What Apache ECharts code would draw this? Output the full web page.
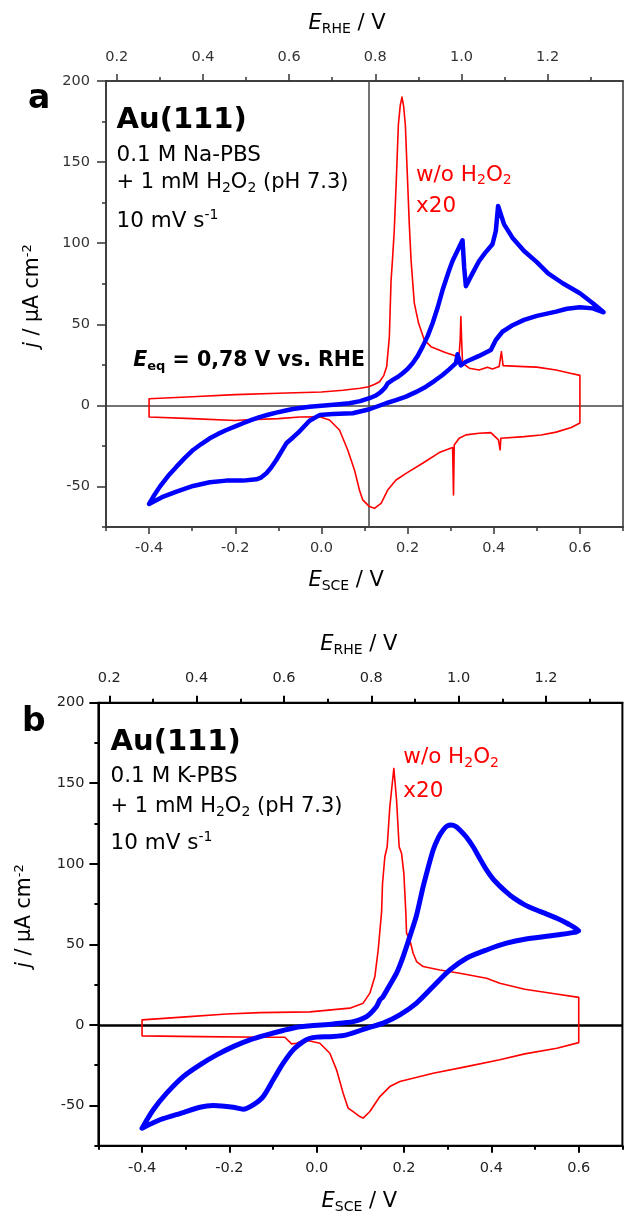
<!DOCTYPE html>
<html><head><meta charset="utf-8">
<script src="https://cdn.jsdelivr.net/npm/echarts@6/dist/echarts.min.js"></script>
<style>html,body{margin:0;padding:0;background:#fff}#c{width:624px;height:1212px}</style>
</head><body><div id="c"></div>
<script>
// ---- axes / tick values ----
const sceTicks = [-0.4, -0.2, 0, 0.2, 0.4, 0.6];
const sceMinor = [-0.5, -0.3, -0.1, 0.1, 0.3, 0.5, 0.7];
const rheTicks = [0.2, 0.4, 0.6, 0.8, 1.0, 1.2];
const rheMinor = [0.3, 0.5, 0.7, 0.9, 1.1, 1.3];
const jTicks = [-50, 0, 50, 100, 150, 200];
const jMinor = [-75, -25, 25, 75, 125, 175];
const sceRange = [-0.5, 0.7];
const rheOffset = 0.675;
const jRange = [-75, 200];
const eqLineSCE = 0.11;

// ---- panel a : Au(111), 0.1 M Na-PBS ----
const aRed = [[-0.4,4.1],[-0.3,5.3],[-0.2,6.6],[-0.1,7.5],[0.0,8.2],[0.05,9.3],[0.09,10.6],[0.11,11.5],[0.125,13.2],[0.135,14.6],[0.145,18.5],[0.1515,23.9],[0.1577,42.4],[0.1616,76.7],[0.165,90],[0.169,107.5],[0.174,140],[0.1786,173],[0.183,185],[0.187,190.1],[0.191,184],[0.1948,173],[0.199,145],[0.204,111.6],[0.208,90],[0.2117,76.7],[0.2156,63],[0.2256,50.6],[0.2388,40.3],[0.2543,36.2],[0.289,32.5],[0.3122,30.5],[0.319,29],[0.322,40],[0.3237,54.7],[0.3255,40],[0.3276,26],[0.343,22.9],[0.366,21.8],[0.3854,23.5],[0.397,22.4],[0.4125,23.9],[0.4178,33.1],[0.4217,24.5],[0.47,23.9],[0.5,23.6],[0.5447,21.8],[0.575,20],[0.6,18.5],[0.6,-10.9],[0.58,-13.6],[0.5447,-16.5],[0.51,-18.3],[0.4704,-19.3],[0.4164,-20.3],[0.4148,-27.5],[0.4109,-21.3],[0.3932,-16.8],[0.366,-17.2],[0.3354,-18.2],[0.3198,-20.3],[0.3083,-24.4],[0.3066,-55.2],[0.3045,-26],[0.2735,-29.1],[0.2349,-35.7],[0.1964,-41.9],[0.1732,-46],[0.1538,-52.2],[0.1385,-60.4],[0.123,-63.5],[0.1114,-62.4],[0.096,-58.3],[0.0882,-52.2],[0.0767,-39.8],[0.0611,-27.5],[0.0419,-15.2],[0.0188,-9],[-0.0044,-7],[-0.05,-7.2],[-0.1,-8.2],[-0.182,-9],[-0.2,-9.3],[-0.3,-8.2],[-0.4,-7.2],[-0.4,4.1]];
const aBlue = [[-0.4,-60.8],[-0.39,-56.2],[-0.375,-50.1],[-0.356,-43.6],[-0.3363,-37.8],[-0.317,-32.4],[-0.2978,-27.5],[-0.278,-23.7],[-0.2591,-20.3],[-0.24,-17.6],[-0.2205,-15.2],[-0.2,-13],[-0.182,-11],[-0.162,-9],[-0.1434,-7.3],[-0.124,-5.8],[-0.1047,-4.5],[-0.085,-3.3],[-0.0662,-2.2],[-0.0276,-0.8],[0.0,-0.3],[0.035,0.5],[0.065,1.3],[0.09,2.6],[0.1114,4.4],[0.125,5.9],[0.1346,7.5],[0.142,9.3],[0.148,11],[0.1538,13.6],[0.1654,15.7],[0.178,17.6],[0.1886,19.8],[0.2,22.4],[0.2117,26],[0.2235,30.5],[0.2349,36.2],[0.247,43],[0.258,50.6],[0.27,60.5],[0.2812,71.1],[0.2966,83.5],[0.3043,89],[0.316,95.5],[0.3275,101.8],[0.3314,84.9],[0.3353,73.5],[0.3506,81.4],[0.366,89],[0.38,94],[0.397,99.3],[0.4048,107.5],[0.4101,122.9],[0.424,111.6],[0.4433,103.4],[0.4704,95.2],[0.5,88.3],[0.5262,81.4],[0.56,75.3],[0.6,69.1],[0.63,63],[0.655,57.4],[0.63,59.8],[0.6,60.5],[0.57,59.6],[0.5447,57.8],[0.5,55.2],[0.4704,52.7],[0.445,49.6],[0.4201,45.4],[0.4048,40.3],[0.3932,34.2],[0.366,30.5],[0.3354,26.9],[0.3235,24.7],[0.316,31.5],[0.3122,26],[0.2965,22.2],[0.2812,18.7],[0.262,15],[0.2427,11.5],[0.22,8.3],[0.1964,5.4],[0.173,3.2],[0.15,1.3],[0.1114,-2.4],[0.0727,-4.9],[0.0264,-5.3],[-0.0044,-6],[-0.0276,-9.5],[-0.0507,-16],[-0.066,-19.8],[-0.0815,-23.4],[-0.093,-28.5],[-0.1047,-33.7],[-0.117,-38.5],[-0.1278,-41.9],[-0.14,-44.5],[-0.151,-45.6],[-0.182,-46.4],[-0.2205,-46.4],[-0.2591,-47.4],[-0.2978,-49.7],[-0.3363,-53.2],[-0.37,-56.6],[-0.4,-60.8]];

// ---- panel b : Au(111), 0.1 M K-PBS ----
const bRed = [[-0.4,3.1],[-0.3,5],[-0.2063,6.8],[-0.1301,7.6],[-0.0157,8.1],[0.0758,10.4],[0.1063,13.5],[0.1217,19.7],[0.1331,30],[0.1407,46.5],[0.1485,70],[0.1507,87.9],[0.156,104.4],[0.1613,110.6],[0.1674,135.4],[0.1766,159.2],[0.1828,139.6],[0.1887,110.6],[0.1942,106.5],[0.1995,94.1],[0.204,70],[0.2057,56.9],[0.2132,52.7],[0.2208,44.5],[0.2286,39.3],[0.2437,36.2],[0.2819,34.1],[0.3277,32.1],[0.3888,29],[0.4192,25.9],[0.4764,22.1],[0.5408,19.5],[0.6,17.1],[0.6,-11],[0.5499,-14.5],[0.4764,-18],[0.4192,-21.7],[0.3429,-25.9],[0.2666,-30],[0.1903,-35.2],[0.1674,-38.3],[0.1446,-44.5],[0.1217,-53.8],[0.1063,-57.9],[0.0987,-56.9],[0.0834,-53.8],[0.072,-51.7],[0.0605,-42.4],[0.0454,-27.9],[0.03,-17.6],[0.0072,-11.4],[-0.0157,-10],[-0.031,-9.7],[-0.0461,-11.4],[-0.0576,-11.8],[-0.0729,-7.7],[-0.1148,-7.7],[-0.2675,-7.3],[-0.4,-6.8],[-0.4,3.1]];
const bBlue = [[-0.4,-64.1],[-0.3743,-52.7],[-0.3437,-42.4],[-0.3057,-32.1],[-0.2675,-24.8],[-0.2292,-18.6],[-0.1912,-13.5],[-0.153,-9.3],[-0.1148,-6.2],[-0.0768,-3.5],[-0.0386,-1.2],[0.0377,0.6],[0.0834,2],[0.1141,5.1],[0.137,11.4],[0.1446,15.5],[0.1521,17.6],[0.1674,24.8],[0.1828,32.1],[0.1979,42.4],[0.2132,54.8],[0.2285,68],[0.2437,85.8],[0.255,97.5],[0.2666,108.6],[0.278,116],[0.2895,121],[0.299,123.5],[0.3087,124.1],[0.318,123.2],[0.3277,121],[0.343,116.5],[0.3581,110.6],[0.373,103.5],[0.3888,96.2],[0.404,90.5],[0.42,86],[0.435,82.3],[0.45,79],[0.4764,74.5],[0.5,71.6],[0.52,69.5],[0.55,66.2],[0.575,62.8],[0.6,58.5],[0.55,55.8],[0.4764,53.2],[0.4346,50.7],[0.3888,46.5],[0.343,41.4],[0.3048,34.1],[0.2666,23.8],[0.2285,13.5],[0.1903,6.2],[0.1521,1.1],[0.1141,-2.1],[0.0683,-6.2],[0.0377,-7.2],[-0.0003,-7.6],[-0.0157,-8.3],[-0.031,-10.4],[-0.0539,-15.5],[-0.0768,-23.8],[-0.0997,-34.1],[-0.1226,-44.5],[-0.1455,-49.6],[-0.1684,-52.3],[-0.1912,-51.1],[-0.237,-50.1],[-0.2675,-51.1],[-0.3057,-54.4],[-0.359,-58.9],[-0.4,-64.1]];

// ---- build ----
const F = 'DejaVu Sans';
const RED = '#ff0000', BLUE = '#0000ff';
const rheRange = [sceRange[0] + rheOffset, sceRange[1] + rheOffset];
const TICKFS = 14.5;

function xPair(grid, pos, range, major, minor, margin, col, lw, lab) {
  return [
    {type:'value', gridIndex:grid, position:pos, min:range[0], max:range[1],
     axisLine:{show:true, onZero:false, lineStyle:{color:col, width:lw}},
     axisTick:{show:true, customValues:major, length:7, lineStyle:{color:col, width:lw}},
     axisLabel:{show:true, customValues:major, margin:margin, formatter:v=>Number(v).toFixed(1), fontFamily:F, fontSize:TICKFS, color:lab},
     splitLine:{show:false}},
    {type:'value', gridIndex:grid, position:pos, min:range[0], max:range[1],
     axisLine:{show:false, onZero:false},
     axisTick:{show:true, customValues:minor, length:4, lineStyle:{color:col, width:lw}},
     axisLabel:{show:false}, splitLine:{show:false}}
  ];
}
function yPair(grid, margin, col, lw, lab) {
  return [
    {type:'value', gridIndex:grid, position:'left', min:jRange[0], max:jRange[1],
     axisLine:{show:true, onZero:false, lineStyle:{color:col, width:lw}},
     axisTick:{show:true, customValues:jTicks, length:9, lineStyle:{color:col, width:lw}},
     axisLabel:{show:true, customValues:jTicks, margin:margin, formatter:v=>String(Math.round(v)), fontFamily:F, fontSize:TICKFS, color:lab},
     splitLine:{show:false}},
    {type:'value', gridIndex:grid, position:'left', min:jRange[0], max:jRange[1],
     axisLine:{show:false, onZero:false},
     axisTick:{show:true, customValues:jMinor, length:4, lineStyle:{color:col, width:lw}},
     axisLabel:{show:false}, splitLine:{show:false}}
  ];
}

function rich(size, color, weight) {
  const s = Math.round(size * 0.65);
  return {
    sub:{fontFamily:F, fontSize:s, fontWeight:weight, fill:color, lineHeight:10, verticalAlign:'bottom'},
    sup:{fontFamily:F, fontSize:s, fontWeight:weight, fill:color, lineHeight:12, verticalAlign:'top'},
    it:{fontFamily:F, fontSize:size, fontWeight:weight, fontStyle:'italic', fill:color, lineHeight:size+4}
  };
}
function T(x, y, text, size, color, weight, extra) {
  return Object.assign({type:'text', x:x, y:y, z:100, silent:true,
    style:{text:text, fontFamily:F, fontSize:size, fontWeight:weight||'normal', fill:color,
      align:'left', verticalAlign:'middle', lineHeight:size+4, rich:rich(size, color, weight||'normal')}}, extra||{});
}
function axTitle(x, y, sub) {
  return T(x, y, '{it|E}{sub|' + sub + '} / V', 21, '#000');
}
function yTitle(x, y) {
  return {type:'text', x:x, y:y, z:100, silent:true, rotation:Math.PI/2,
    style:{text:'{it|j} / μA cm{sup|-2}', fontFamily:F, fontSize:20.5, fill:'#000', align:'center', verticalAlign:'middle', lineHeight:24.5, rich:rich(20.5,'#000','normal')}};
}

const gridA = {left:106, top:81, width:517, height:446, show:true, borderColor:'#333', borderWidth:1.5, backgroundColor:'transparent', outerBoundsMode:'none'};
const gridB = {left:98.4, top:702.7, width:524, height:443, show:true, borderColor:'#000', borderWidth:2, backgroundColor:'transparent', outerBoundsMode:'none'};

const xAxis = [].concat(
  xPair(0, 'bottom', sceRange, sceTicks, sceMinor, 14, '#333', 1.5, '#333'),
  xPair(0, 'top', rheRange, rheTicks, rheMinor, 16.5, '#333', 1.5, '#333'),
  xPair(1, 'bottom', sceRange, sceTicks, sceMinor, 15.5, '#000', 2, '#222'),
  xPair(1, 'top', rheRange, rheTicks, rheMinor, 16.5, '#000', 2, '#222')
);
const yAxis = [].concat(yPair(0, 16, '#333', 1.5, '#333'), yPair(1, 14, '#000', 2, '#222'));

function curve(data, xi, yi, color, width, z, mark, smooth) {
  const s = {type:'line', xAxisIndex:xi, yAxisIndex:yi, data:data, showSymbol:false, symbol:'none',
    smooth:smooth||false, animation:false, z:z, lineStyle:{color:color, width:width, cap:'round', join:'round'}};
  if (mark) s.markLine = mark;
  return s;
}
const markA = {silent:true, z:1, symbol:['none','none'], label:{show:false}, animation:false,
  lineStyle:{color:'#444', width:1.5, type:'solid'}, emphasis:{disabled:true},
  data:[{yAxis:0},{xAxis:eqLineSCE}]};
const markB = {silent:true, z:1, symbol:['none','none'], label:{show:false}, animation:false,
  lineStyle:{color:'#000', width:2.5, type:'solid'}, emphasis:{disabled:true},
  data:[{yAxis:0}]};

const BODY = 21.5;
const graphic = [
  // panel a
  T(28, 99, 'a', 33, '#000', 'bold'),
  T(116.6, 120.5, 'Au(111)', 29, '#000', 'bold'),
  T(116.6, 155, '0.1 M Na-PBS', BODY, '#000'),
  T(116.6, 183, '+ 1 mM H{sub|2}O{sub|2} (pH 7.3)', 21, '#000'),
  T(116.6, 221, '10 mV s{sup|-1}', BODY, '#000'),
  T(416, 175, 'w/o H{sub|2}O{sub|2}', BODY, RED),
  T(416, 206, 'x20', BODY, RED),
  T(133.3, 361, '{it|E}{sub|eq} = 0,78 V vs. RHE', 20.5, '#000', 'bold'),
  axTitle(308.4, 24, 'RHE'),
  axTitle(308.4, 580.5, 'SCE'),
  yTitle(33, 296),
  // panel b
  T(22, 722, 'b', 33, '#000', 'bold'),
  T(110.6, 742.5, 'Au(111)', 29, '#000', 'bold'),
  T(110.6, 776.7, '0.1 M K-PBS', BODY, '#000'),
  T(110.6, 807, '+ 1 mM H{sub|2}O{sub|2} (pH 7.3)', 21, '#000'),
  T(110.6, 843, '10 mV s{sup|-1}', BODY, '#000'),
  T(403.3, 757.5, 'w/o H{sub|2}O{sub|2}', BODY, RED),
  T(403.3, 791, 'x20', BODY, RED),
  axTitle(320.3, 645, 'RHE'),
  axTitle(321.5, 1202, 'SCE'),
  yTitle(25, 916)
];

const chart = echarts.init(document.getElementById('c'), null, {renderer:'canvas', width:624, height:1212});
chart.setOption({
  animation:false,
  backgroundColor:'#fff',
  grid:[gridA, gridB],
  xAxis:xAxis,
  yAxis:yAxis,
  series:[
    curve(aRed, 0, 0, RED, 1.6, 3, markA),
    curve(aBlue, 0, 0, BLUE, 4.5, 4),
    curve(bRed, 4, 2, RED, 1.6, 3, markB),
    curve(bBlue, 4, 2, BLUE, 5, 4, null, 0.25)
  ],
  graphic:graphic
});
</script></body></html>
